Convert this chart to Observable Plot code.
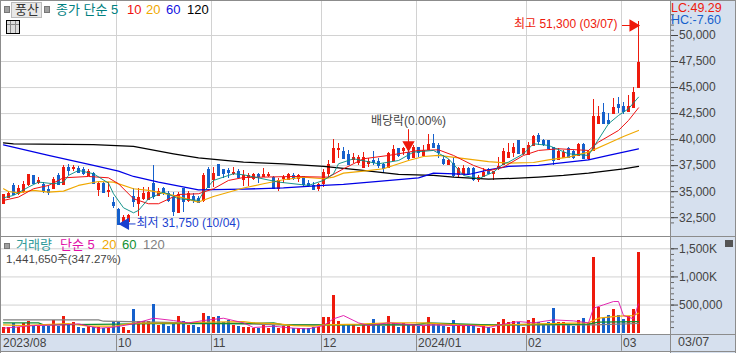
<!DOCTYPE html>
<html><head><meta charset="utf-8">
<script src="https://cdn.jsdelivr.net/npm/d3@7"></script>
<script src="https://cdn.jsdelivr.net/npm/@observablehq/plot@0.6"></script>
<style>
html,body{margin:0;padding:0;background:#fff}
#c{position:relative;width:736px;height:353px;overflow:hidden;font:12px 'Liberation Sans','Noto Sans CJK KR',sans-serif;color:#444}
#c svg{position:absolute;left:0;overflow:visible}
.t{position:absolute;white-space:nowrap;line-height:14px}
.b{position:absolute}
</style></head><body><div id="c"></div>
<script>
const opens=[33900,34410,35600,34860,35050,35690,36560,35920,35690,35180,35280,36560,35690,37290,37200,37200,37100,36560,36720,35180,35820,35050,34000,33260,31850,32170,34540,33900,34320,34220,35760,34640,35280,34860,34410,33040,35280,34160,34540,34320,34160,37100,36140,37610,37100,37040,36720,36970,36140,
36330,36240,36650,36460,36560,36400,35280,36240,36140,36560,36240,36460,35760,35600,35280,35760,36780,37840,39020,38890,38570,38060,37840,37360,37740,37990,37930,37610,37290,37990,39120,38960,38800,38320,39210,38480,39020,39600,39440,38060,37610,37680,36650,36650,37200,37200,36140,36460,37100,
36720,37200,37610,38320,38800,39920,38640,38570,39440,40400,39920,39920,39210,38060,38320,39120,38860,38480,39530,38160,38960,41520,42570,41840,42480,43340,43180,42700,43120,44970];
const closes=[34730,34860,34730,35280,35690,36620,35820,36080,35050,34920,36140,35690,37360,37040,37290,36880,36720,36970,35760,35760,34960,35120,33680,31850,32560,32720,34090,34410,34860,34960,34540,35050,34960,34160,33130,34730,34090,34800,34160,34000,36560,35440,36720,36560,36720,36880,36880,36330,36560,
36560,36650,36460,36650,36650,35280,36080,36330,36650,36240,36560,35690,35600,35180,35690,36880,37610,39180,39180,38160,37610,38250,38320,38320,37930,37840,37520,37200,38640,39020,38480,39120,38160,39280,38800,38960,39530,39210,38800,37680,37990,36560,37200,37200,36720,36140,36400,36880,36780,
36940,37420,38890,38800,39210,38640,39120,39440,40300,39850,39500,39120,37990,38860,38800,38320,38320,39530,38160,38860,42220,42220,41580,41580,43050,43120,42730,43150,44560,47440];
const highs=[34730,35050,35820,35600,36010,36620,36560,36400,35920,35600,36400,36720,37520,37610,37520,37420,37290,37100,36880,35920,35920,35920,34410,33360,32720,32780,35280,35280,35440,35370,37520,35280,35440,35050,34960,34960,35280,35050,34800,34540,36720,37360,37360,37610,37100,37200,37290,37100,37040,
36720,36720,36720,37200,36880,36460,36240,36560,36780,36720,36650,36460,36080,35920,35820,37100,37990,40010,39660,39210,38960,38640,38480,38800,38160,38890,38160,37680,38800,39440,39120,39280,38960,39440,39280,39440,40490,40490,39600,38480,38060,38320,37360,37520,37360,37360,36560,37200,37200,
36940,38320,39120,39660,39660,39920,39180,39760,40400,40620,39980,39920,39280,39120,38960,39210,38960,39600,39600,38960,43820,43180,43440,42480,43920,44080,43600,44240,45040,51300];
const lows=[33900,34320,34640,34640,34860,35500,35760,35690,34860,34640,35180,35600,35600,36560,36970,36720,36560,36460,35690,34540,34860,34480,33360,31750,31760,32080,33450,32620,34160,34160,34220,34540,34640,34000,32620,33040,33040,34000,33840,33900,34000,35280,35440,36460,36240,36240,36560,36240,35500,
35500,36080,35760,36330,36330,35180,35050,35760,36080,36080,35920,35500,35440,35120,35050,35440,36330,37680,38160,38060,37520,37680,37520,37360,37360,37520,37200,36720,37200,37930,38250,38480,37990,38250,38250,38380,38960,39120,38160,37520,37520,36400,36330,36560,36560,36010,35920,36330,36650,
36080,37040,37520,38320,38320,38540,38480,38480,39340,39440,39340,39020,37520,37990,38250,38160,38060,38380,38060,37990,38890,41450,41450,41520,42410,42480,42410,42640,43050,44880];
const volumes=[101,101,172,101,172,207,124,124,124,124,231,124,296,160,195,101,77,124,101,101,89,89,207,207,101,47,421,207,207,207,509,136,184,124,184,296,207,136,136,101,350,296,272,296,184,225,136,113,101,
101,89,89,136,89,136,89,113,113,89,77,89,89,101,101,278,278,669,207,136,136,148,101,136,148,243,148,124,296,166,101,166,160,160,124,124,278,148,148,124,101,225,148,124,148,124,89,124,101,
89,184,243,184,207,184,101,225,261,184,148,184,438,184,184,160,124,225,261,166,1345,456,261,314,421,314,243,296,421,1441.65];

const ma5X=[0,2,5,7,10,12,13,15,18,21,22,24,26,27,29,32,35,39,40,42,46,48,55,61,64,66,67,70,75,79,82,86,89,92,95,98,100,101,104,106,109,113,117,118,121,123,125,127];
const ma5Y=[34410,34640,35440,35920,35760,35920,36560,37040,36720,35820,34800,33450,32970,33200,34320,34960,34320,34160,34960,36080,36720,36620,35920,35600,36080,36720,37680,38160,37680,37990,38800,38960,38160,36560,36240,36880,37680,37840,38640,39600,39440,38640,38480,39280,41520,42320,42960,44080];
const ma10X=[0,3,6,9,12,17,21,23,26,29,31,35,39,42,45,48,52,58,64,65,68,72,77,83,87,90,94,97,100,104,107,111,117,119,123,125,127];
const ma10Y=[34160,34480,35280,35600,36330,36460,36330,35760,34320,33840,33840,34730,34800,35280,36080,36360,36400,36460,36400,36400,37200,38160,38480,38960,39020,38480,37520,37000,37360,38480,38960,39120,38960,39760,40880,41840,43050];
const ma20X=[0,1,3,6,9,12,15,19,22,26,29,34,39,42,48,52,56,60,64,66,68,72,76,81,84,87,91,97,101,106,109,113,117,121,124,127];
const ma20Y=[35280,35020,34890,35120,34960,35050,35600,35980,35920,35280,35120,34640,34000,34540,35350,35757,36140,36400,36240,36400,36780,36970,37200,37990,38380,38480,38250,37880,37740,37800,38060,38320,38800,39660,40300,40880];
const ma60X=[0,9,18,23,26,31,39,48,56,64,68,75,83,86,93,97,101,107,117,121,127];
const ma60Y=[39500,38480,37520,36970,36460,35920,35180,35240,35370,35600,35690,35980,36330,36780,36650,37100,37420,37520,38060,38480,39120];
const ma120X=[0,2,18,26,34,39,48,56,64,71,79,86,90,97,103,107,112,117,124,127];
const ma120Y=[39690,39600,39530,39340,38640,38250,37840,37680,37420,37100,36650,36560,36400,36200,36300,36400,36560,36780,37200,37420];

const volMa5X=[0,6,12,15,19,22,26,30,34,37,40,44,48,50,54,58,61,64,66,68,71,73,77,82,84,86,91,94,97,100,103,106,110,114,117,118,120,122,123,124,126,127];
const volMa5Y=[89,136,148,166,89,107,166,266,225,184,225,266,184,101,124,89,77,136,255,314,184,136,184,148,136,148,136,136,101,160,207,184,237,219,184,444,504,563,563,314,255,521];
const volMa20X=[0,4,7,13,17,22,26,36,39,48,50,55,58,62,64,71,77,84,91,97,100,107,114,117,119,123,126,127];
const volMa20Y=[148,136,148,172,124,124,178,184,195,207,184,166,136,124,148,160,184,184,148,136,148,166,178,184,267,302,314,355];
const volMa60X=[0,7,8,23,30,48,54,56,82,85,97,117,119,127];
const volMa60Y=[184,184,148,160,172,172,184,148,148,184,148,160,196,207];
const volMa120X=[0,19,20,48,55,97,118,127];
const volMa120Y=[237,237,213,166,148,148,148,172];

const monthStarts=[23,42,64,83,105,124];
const dateLabels=["2023/08","10","11","12","2024/01","02","03"];
const dateLabelAt=[0,23,42,64,83,105,124];
const lastDate="03/07";
const priceTicks=[32500,35000,37500,40000,42500,45000,47500,50000];
const volTicks=[500,1000,1500];

const RED="#ee1a0c",BLUE="#1560cc",GRID="#d2d2d2",LOWBLUE="#1a3fd0";
const FONT="'Liberation Sans','Noto Sans CJK KR',sans-serif";
const idx=d3.range(opens.length);
const colorOf=i=>closes[i]>=opens[i]?RED:BLUE;
const xScale={type:"linear",domain:[-0.6,133.4],range:[0,670],axis:null};
const gridX=monthStarts.map(i=>i-0.4);
const lineOf=(xs,ys,stroke,strokeWidth)=>Plot.line(xs.map((x,i)=>[x,ys[i]]),{x:"0",y:"1",stroke,strokeWidth});
const base={width:736,marginLeft:0,marginRight:66,marginTop:0,x:xScale,
  style:{background:"transparent",fontFamily:FONT,fontSize:"12px",overflow:"visible"}};

const priceChart=Plot.plot({...base,height:237,marginBottom:0,
  y:{domain:[50000,32500],range:[35,217.2],axis:null},
  marks:[
    Plot.gridY(priceTicks,{stroke:GRID,strokeOpacity:1}),
    Plot.ruleX(gridX,{stroke:GRID}),
    Plot.ruleX(idx,{x:i=>i,y1:i=>lows[i],y2:i=>highs[i],stroke:colorOf,strokeWidth:1,shapeRendering:"crispEdges"}),
    Plot.rect(idx,{x1:i=>i-0.3,x2:i=>i+0.3,y1:i=>Math.max(opens[i],closes[i]),y2:i=>Math.min(opens[i],closes[i]),fill:colorOf,shapeRendering:"crispEdges",insetBottom:-1}),
    lineOf(ma120X,ma120Y,"#000",1.25),
    lineOf(ma60X,ma60Y,"#0000e6",1.25),
    lineOf(ma20X,ma20Y,"#f0a800",1.15),
    lineOf(ma10X,ma10Y,"#f01010",1),
    lineOf(ma5X,ma5Y,"#008a80",0.9),
    Plot.axisY(d3.range(32000,52500,500),{anchor:"right",tickSize:3,tickFormat:()=>"",color:"#666",label:null}),
    Plot.axisY(priceTicks,{anchor:"right",tickSize:7,tickPadding:1.5,tickFormat:d3.format(","),color:"#444",label:null}),
    Plot.ruleY([50960],{x1:123.8,x2:126.4,stroke:RED}),
    Plot.dot([50960],{x:125.9,y:d=>d,symbol:"triangle",r:3.6,rotate:90,fill:RED,stroke:RED}),
    Plot.text(["최고 51,300 (03/07)"],{x:122.8,y:()=>50960,textAnchor:"end",fill:RED,fontSize:12,dy:-1}),
    Plot.ruleY([31900],{x1:25,x2:26.5,stroke:LOWBLUE}),
    Plot.dot([31900],{x:24.4,y:d=>d,symbol:"triangle",r:3.6,rotate:-90,fill:LOWBLUE,stroke:LOWBLUE}),
    Plot.text(["최저 31,750 (10/04)"],{x:26.6,y:()=>31900,textAnchor:"start",fill:LOWBLUE,fontSize:12,dy:-1}),
    Plot.ruleX([81],{y1:40950,y2:39650,stroke:RED,strokeWidth:1}),
    Plot.dot([81],{x:d=>d,y:()=>39500,symbol:"triangle",r:3.6,rotate:180,fill:RED,stroke:RED}),
    Plot.text(["배당락(0.00%)"],{x:81,y:()=>41770,fill:"#444",fontSize:12})
  ]});
priceChart.style.top="0px";

const volumeChart=Plot.plot({...base,height:116,marginBottom:19,
  y:{domain:[0,1500],range:[95.7,11.3],axis:null},
  marks:[
    Plot.gridY(volTicks,{stroke:GRID,strokeOpacity:1}),
    Plot.ruleX(gridX,{stroke:GRID}),
    Plot.rect(idx,{x1:i=>i-0.3,x2:i=>i+0.3,y1:0,y2:i=>volumes[i],fill:colorOf,shapeRendering:"crispEdges"}),
    lineOf(volMa120X,volMa120Y,"#808080",1.2),
    lineOf(volMa60X,volMa60Y,"#109030",1.3),
    lineOf(volMa20X,volMa20Y,"#f0a800",1.2),
    lineOf(volMa5X,volMa5Y,"#e010a8",0.9),
    Plot.axisY(d3.range(100,1600,100),{anchor:"right",tickSize:3,tickFormat:()=>"",color:"#666",label:null}),
    Plot.axisY(volTicks,{anchor:"right",tickSize:7,tickPadding:1.5,tickFormat:d=>d>=1000?d3.format(",")(d)+"K":d3.format(",")(d*1000),color:"#444",label:null}),
    Plot.ruleX(gridX,{y1:-30,y2:-320,stroke:"#8c8c8c"}),
    Plot.text(dateLabels,{x:(d,i)=>dateLabelAt[i]-0.4,y:()=>-170,dx:1.5,textAnchor:"start",fill:"#444",fontSize:12})
  ]});
volumeChart.style.top="237px";

const c=document.getElementById("c");
function box(l,t,w,h,css){const d=document.createElement("div");d.className="b";d.style.cssText=`left:${l}px;top:${t}px;width:${w}px;height:${h}px;${css||""}`;c.appendChild(d);return d}
function txt(s,l,t,color,fs){const d=document.createElement("div");d.className="t";d.textContent=s;d.style.cssText=`left:${l}px;top:${t}px;color:${color};font-size:${fs||12}px`;c.appendChild(d);return d}
box(670,0,66,353,"background:#d6e0ee");
box(0,334,736,18,"background:#d6e0ee");
c.appendChild(priceChart);c.appendChild(volumeChart);
box(0,0,736,1,"background:#8c8c8c");
box(0,0,1,353,"background:#8c8c8c");
box(735,0,1,353,"background:#8c8c8c");
box(0,236,736,1,"background:#8c8c8c");
box(0,334,736,1,"background:#8c8c8c");
box(0,351,736,1,"background:#8c8c8c");
box(670,0,1,353,"background:#8c8c8c");
box(4,6,4,5,"background:#a0a0a0;border:1px solid #777");
box(11,2,29,14,"background:#e8e8e8;border:1px solid #bbb");
txt("풍산",15,3,"#333",13);
box(44,6,4,5,"background:#a0a0a0;border:1px solid #777");
txt("종가 단순 5",56,3,"#008080",13);
txt("10",127,3,"#f01010",13);
txt("20",146,3,"#f0a800",13);
txt("60",166,3,"#1010e0",13);
txt("120",187,3,"#000",13);
box(6,20,12,12,"border:1px solid #000;background:linear-gradient(#888,#888) 0 3px/100% 1px no-repeat,linear-gradient(#888,#888) 3px 0/1px 100% no-repeat,linear-gradient(#888,#888) 8px 0/1px 100% no-repeat,#ddd");
txt("LC:49.29",671,2,RED,12.5).style.lineHeight="12px";
txt("HC:-7.60",671,14,BLUE,12.5).style.lineHeight="12px";
box(4,243,4,4,"background:#a0a0a0;border:1px solid #777");
txt("거래량",16,238,"#2f9a9a",13);
txt("단순 5",60,238,"#e010a8",13);
txt("20",102,238,"#f0a800",13);
txt("60",122,238,"#109030",13);
txt("120",143,238,"#808080",13);
txt("1,441,650주(347.27%)",6,252,"#444",11.5);
box(725,240,8,7,"background:#555");
txt(lastDate,678,335,"#444",12.5);
</script></body></html>
